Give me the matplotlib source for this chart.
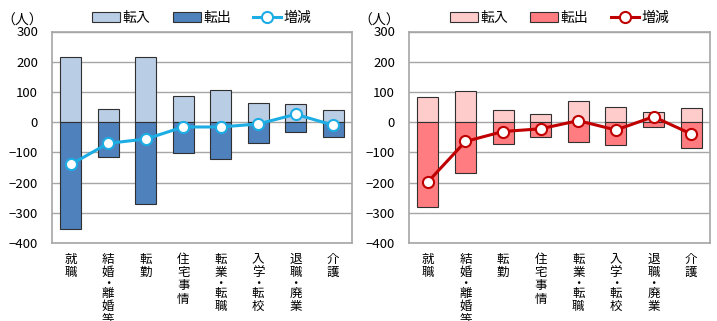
import matplotlib
matplotlib.use("Agg")
import matplotlib.pyplot as plt
import numpy as np

plt.rcParams['font.family'] = ['Noto Sans CJK JP', 'DejaVu Sans']

categories = ['就職', '結婚・離婚等', '転勤', '住宅事情', '転業・転職', '入学・転校', '退職・廃業', '介護']

# left chart (blue)
left_in = [215, 45, 216, 86, 105, 64, 59, 40]
left_out = [-355, -115, -272, -102, -121, -70, -33, -50]
left_net = [-140, -70, -56, -16, -16, -6, 26, -10]

# right chart (red)
right_in = [82, 104, 40, 26, 70, 51, 33, 46]
right_out = [-280, -168, -71, -48, -65, -77, -15, -85]
right_net = [-198, -64, -31, -22, 5, -26, 18, -39]

legend_labels = ['転入', '転出', '増減']

W, H = 717, 321
fig = plt.figure(figsize=(W / 100, H / 100), dpi=100)


def vertical_label(ax, xpos, label):
    # stack the characters top to bottom, the middle dot takes less room
    y = 7.0  # points below the axes
    for ch in label:
        if ch == '・':
            ax.annotate(ch, xy=(xpos, 0), xycoords=('data', 'axes fraction'),
                        xytext=(0, -y - 2.6), textcoords='offset points',
                        ha='center', va='center', fontsize=9)
            y += 5.4
        else:
            ax.annotate(ch, xy=(xpos, 0), xycoords=('data', 'axes fraction'),
                        xytext=(0, -y), textcoords='offset points',
                        ha='center', va='top', fontsize=9)
            y += 9.6


def draw(rect, v_in, v_out, v_net, c_in, c_out, c_line):
    ax = fig.add_axes(rect)
    x = np.arange(len(categories))
    b1 = ax.bar(x, v_in, width=0.56, color=c_in, edgecolor='#303030', linewidth=0.8, zorder=2)
    b2 = ax.bar(x, v_out, width=0.56, color=c_out, edgecolor='#303030', linewidth=0.8, zorder=2)
    ln, = ax.plot(x, v_net, color=c_line, linewidth=2.2, marker='o', markersize=8,
                  markerfacecolor='white', markeredgecolor=c_line, markeredgewidth=1.5, zorder=3)
    ax.set_ylim(-400, 300)
    ax.set_xlim(-0.5, len(categories) - 0.5)
    ax.set_yticks(range(-400, 301, 100))
    ax.yaxis.grid(True, color='#A6A6A6', linewidth=1.0, zorder=0)
    ax.set_axisbelow(True)
    for s in ax.spines.values():
        s.set_color('#A6A6A6')
        s.set_linewidth(1.2)
    ax.tick_params(axis='y', length=0, pad=10, labelsize=9.5)
    ax.set_xticks([])
    for i, c in enumerate(categories):
        vertical_label(ax, i, c)
    ax.legend([b1, b2, ln], legend_labels, loc='lower center', bbox_to_anchor=(0.5, 1.0),
              ncol=3, frameon=False, fontsize=10, handlelength=2.0, handleheight=0.7,
              columnspacing=1.6, handletextpad=0.2, borderaxespad=0.1)
    ax.text(-0.1, 1.02, '（人）', transform=ax.transAxes, fontsize=10, va='bottom', ha='center')
    return ax


draw([52 / W, 78 / H, 300 / W, 211.5 / H], left_in, left_out, left_net,
     '#B9CDE5', '#4F81BD', '#1CADE4')
draw([409 / W, 78 / H, 301 / W, 211.5 / H], right_in, right_out, right_net,
     '#FFCCCC', '#FF7C80', '#C00000')

fig.savefig('out.png', dpi=100)
